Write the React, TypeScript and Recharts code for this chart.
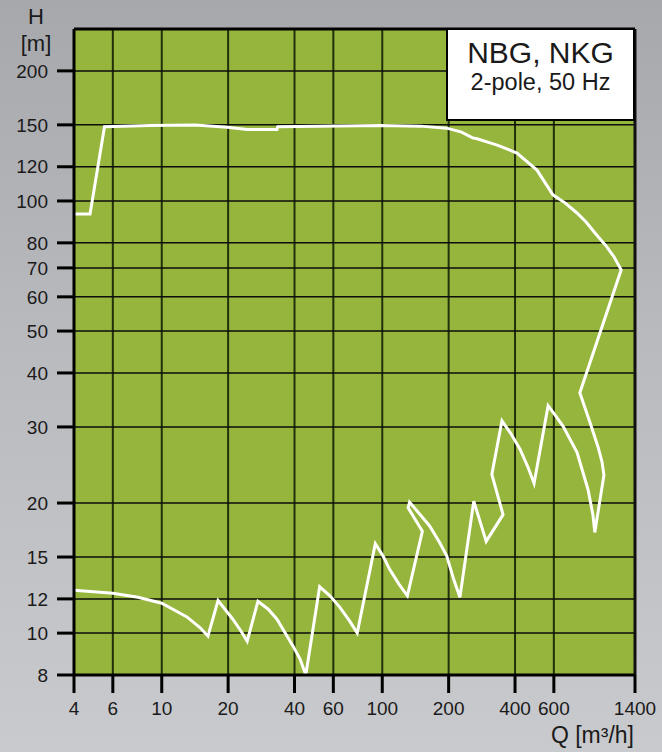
import React from 'react';
import { LineChart, Line, XAxis, YAxis, CartesianGrid, ReferenceLine } from 'recharts';

const flowQ = [
  4, 4.73, 5.5, 8.85, 14.2, 19.8, 24.4, 33.3, 33.6, 98, 149, 196, 229, 258, 267, 332, 408, 503, 594,
  674, 764, 840, 920, 1043, 1125, 1212,
  787, 875, 951, 992, 1012, 920, 902, 857, 764, 661, 607, 565,
  488, 458, 422, 384, 349, 314, 353, 296, 260,
  225, 211, 196, 182, 164, 133, 131, 152, 130, 119, 108, 101, 93,
  77, 71.2, 64, 57.9, 52, 45, 42.4, 39.4, 33.3, 30.4, 27.3,
  24.4, 22.9, 21.0, 18.0, 16.2, 14.9, 13.0, 10, 7.8, 6, 4,
];
const headH = [
  93.3, 93.3, 148.6, 149.4, 149.8, 148.2, 146.4, 146.4, 148.6, 149.4, 149.0, 147.4, 144.3, 139.8,
  139.5, 134.7, 129.1, 117.9, 103.3,
  99.0, 93.8, 89.4, 84.4, 78.3, 74.2, 69.3,
  36.0, 30.7, 27.0, 24.9, 23.2, 17.1, 18.8, 21.5, 26.2, 30.1, 32.0, 33.6,
  22.2, 24.2, 26.6, 28.9, 31.0, 23.3, 18.8, 16.3, 20.2,
  12.1, 13.3, 15.1, 16.2, 17.7, 20.1, 19.5, 17.2, 12.2, 12.98, 14.05, 15.06, 16.1,
  10.0, 10.66, 11.5, 12.2, 12.8, 8.0, 8.71, 9.33, 10.77, 11.36, 11.85,
  9.58, 10.1, 10.77, 11.9, 9.84, 10.3, 10.9, 11.73, 12.1, 12.37, 12.57,
];

const qTicks = [4, 6, 10, 20, 40, 60, 100, 200, 400, 600, 1400];
const hTicks = [8, 10, 12, 15, 20, 30, 40, 50, 60, 70, 80, 100, 120, 150, 200];

const data = flowQ.map((q, i) => ({ q, h: headH[i] }));

const FONT = '"Liberation Sans", Arial, sans-serif';
const tickStyle = { fontSize: 19, fill: '#1a1a1a', fontFamily: FONT };

export default function App() {
  return (
    <div
      style={{
        position: 'absolute',
        left: 0,
        top: 0,
        width: 662,
        height: 752,
        background: 'linear-gradient(180deg, #a7a8ac 0%, #b9babe 45%, #c9cacd 100%)',
        fontFamily: FONT,
        color: '#1a1a1a',
        overflow: 'hidden',
      }}
    >
      <LineChart width={662} height={752} data={data} margin={{ top: 29, right: 27, left: 0, bottom: 0 }}>
        <CartesianGrid horizontal={false} stroke="#22300c" strokeWidth={2} fill="#95b53d" fillOpacity={1} />
        <CartesianGrid vertical={false} stroke="#0d0d0d" strokeWidth={1.5} />
        <XAxis
          dataKey="q"
          type="number"
          scale="log"
          domain={[4, 1400]}
          ticks={qTicks}
          allowDataOverflow
          height={77}
          tick={tickStyle}
          tickSize={18}
          tickMargin={9}
          axisLine={{ stroke: '#000', strokeWidth: 3 }}
          tickLine={{ stroke: '#000', strokeWidth: 3 }}
          interval={0}
        />
        <YAxis
          dataKey="h"
          type="number"
          scale="log"
          domain={[8, 250]}
          ticks={hTicks}
          allowDataOverflow
          width={74}
          tick={tickStyle}
          tickSize={17}
          tickMargin={9}
          axisLine={{ stroke: '#000', strokeWidth: 3 }}
          tickLine={{ stroke: '#000', strokeWidth: 3 }}
          interval={0}
        />
        <ReferenceLine y={250} stroke="#000" strokeWidth={3} />
        <ReferenceLine x={1400} stroke="#111" strokeWidth={3} />
        <Line
          type="linear"
          dataKey="h"
          stroke="#ffffff"
          strokeWidth={3}
          strokeLinejoin="miter"
          dot={false}
          activeDot={false}
          isAnimationActive={false}
        />
      </LineChart>

      <div style={{ position: 'absolute', left: 19, top: 4, width: 34, textAlign: 'center', fontSize: 22, lineHeight: '26px' }}>
        H
      </div>
      <div style={{ position: 'absolute', left: 14, top: 31, width: 44, textAlign: 'center', fontSize: 22, lineHeight: '26px' }}>
        [m]
      </div>
      <div style={{ position: 'absolute', right: 28, top: 721, fontSize: 23, lineHeight: '28px', whiteSpace: 'nowrap' }}>
        Q [m³/h]
      </div>

      <div
        style={{
          position: 'absolute',
          left: 446,
          top: 28,
          width: 185,
          height: 89,
          background: '#fff',
          border: '2.5px solid #000',
          textAlign: 'center',
        }}
      >
        <div style={{ fontSize: 30, lineHeight: '32px', marginTop: 7 }}>NBG, NKG</div>
        <div style={{ fontSize: 23.5, lineHeight: '26px', marginTop: 0 }}>2-pole, 50 Hz</div>
      </div>
    </div>
  );
}
